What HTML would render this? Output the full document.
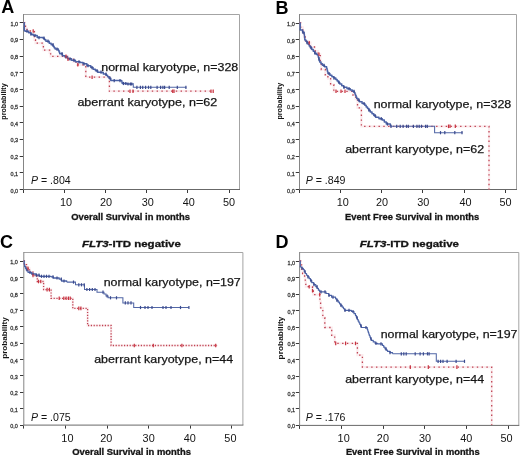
<!DOCTYPE html>
<html><head><meta charset="utf-8"><title>Kaplan-Meier curves</title>
<style>
html,body{margin:0;padding:0;background:#fff;}
body{width:520px;height:455px;overflow:hidden;}
svg{display:block;filter:blur(0.3px);font-family:"Liberation Sans", sans-serif;}
</style></head><body>
<svg width="520" height="455" viewBox="0 0 520 455">
<rect width="520" height="455" fill="#fff"/>
<g><path d="M23.5,14.5 H239.5 V189.5" fill="none" stroke="#a4a4a4" stroke-width="1"/>
<path d="M23.5,14 V189.5" fill="none" stroke="#858585" stroke-width="1"/>
<path d="M23,189.5 H240" fill="none" stroke="#686868" stroke-width="1"/>
<line x1="19.7" y1="189.5" x2="23" y2="189.5" stroke="#3a3a3a" stroke-width="1"/>
<text x="18" y="192.5" font-size="6" fill="#383838" stroke="#383838" stroke-width="0.3" text-anchor="end" textLength="7.6" lengthAdjust="spacingAndGlyphs">0,0</text>
<line x1="19.7" y1="172.5" x2="23" y2="172.5" stroke="#3a3a3a" stroke-width="1"/>
<text x="18" y="175.83" font-size="6" fill="#383838" stroke="#383838" stroke-width="0.3" text-anchor="end" textLength="7.6" lengthAdjust="spacingAndGlyphs">0,1</text>
<line x1="19.7" y1="156.5" x2="23" y2="156.5" stroke="#3a3a3a" stroke-width="1"/>
<text x="18" y="159.16" font-size="6" fill="#383838" stroke="#383838" stroke-width="0.3" text-anchor="end" textLength="7.6" lengthAdjust="spacingAndGlyphs">0,2</text>
<line x1="19.7" y1="139.5" x2="23" y2="139.5" stroke="#3a3a3a" stroke-width="1"/>
<text x="18" y="142.49" font-size="6" fill="#383838" stroke="#383838" stroke-width="0.3" text-anchor="end" textLength="7.6" lengthAdjust="spacingAndGlyphs">0,3</text>
<line x1="19.7" y1="122.5" x2="23" y2="122.5" stroke="#3a3a3a" stroke-width="1"/>
<text x="18" y="125.82" font-size="6" fill="#383838" stroke="#383838" stroke-width="0.3" text-anchor="end" textLength="7.6" lengthAdjust="spacingAndGlyphs">0,4</text>
<line x1="19.7" y1="106.5" x2="23" y2="106.5" stroke="#3a3a3a" stroke-width="1"/>
<text x="18" y="109.15" font-size="6" fill="#383838" stroke="#383838" stroke-width="0.3" text-anchor="end" textLength="7.6" lengthAdjust="spacingAndGlyphs">0,5</text>
<line x1="19.7" y1="89.5" x2="23" y2="89.5" stroke="#3a3a3a" stroke-width="1"/>
<text x="18" y="92.48" font-size="6" fill="#383838" stroke="#383838" stroke-width="0.3" text-anchor="end" textLength="7.6" lengthAdjust="spacingAndGlyphs">0,6</text>
<line x1="19.7" y1="72.5" x2="23" y2="72.5" stroke="#3a3a3a" stroke-width="1"/>
<text x="18" y="75.81" font-size="6" fill="#383838" stroke="#383838" stroke-width="0.3" text-anchor="end" textLength="7.6" lengthAdjust="spacingAndGlyphs">0,7</text>
<line x1="19.7" y1="56.5" x2="23" y2="56.5" stroke="#3a3a3a" stroke-width="1"/>
<text x="18" y="59.14" font-size="6" fill="#383838" stroke="#383838" stroke-width="0.3" text-anchor="end" textLength="7.6" lengthAdjust="spacingAndGlyphs">0,8</text>
<line x1="19.7" y1="39.5" x2="23" y2="39.5" stroke="#3a3a3a" stroke-width="1"/>
<text x="18" y="42.47" font-size="6" fill="#383838" stroke="#383838" stroke-width="0.3" text-anchor="end" textLength="7.6" lengthAdjust="spacingAndGlyphs">0,9</text>
<line x1="19.7" y1="22.5" x2="23" y2="22.5" stroke="#3a3a3a" stroke-width="1"/>
<text x="18" y="25.8" font-size="6" fill="#383838" stroke="#383838" stroke-width="0.3" text-anchor="end" textLength="7.6" lengthAdjust="spacingAndGlyphs">1,0</text>
<line x1="23.5" y1="190" x2="23.5" y2="193" stroke="#3a3a3a" stroke-width="1"/>
<line x1="64.5" y1="190" x2="64.5" y2="193" stroke="#3a3a3a" stroke-width="1"/>
<text x="66.05" y="206" font-size="10.2" fill="#141414" text-anchor="middle" textLength="12.1" lengthAdjust="spacingAndGlyphs">10</text>
<line x1="105.5" y1="190" x2="105.5" y2="193" stroke="#3a3a3a" stroke-width="1"/>
<text x="105.95" y="206" font-size="10.2" fill="#141414" text-anchor="middle" textLength="12.1" lengthAdjust="spacingAndGlyphs">20</text>
<line x1="146.5" y1="190" x2="146.5" y2="193" stroke="#3a3a3a" stroke-width="1"/>
<text x="147.7" y="206" font-size="10.2" fill="#141414" text-anchor="middle" textLength="12.1" lengthAdjust="spacingAndGlyphs">30</text>
<line x1="187.5" y1="190" x2="187.5" y2="193" stroke="#3a3a3a" stroke-width="1"/>
<text x="188.75" y="206" font-size="10.2" fill="#141414" text-anchor="middle" textLength="12.1" lengthAdjust="spacingAndGlyphs">40</text>
<line x1="229.5" y1="190" x2="229.5" y2="193" stroke="#3a3a3a" stroke-width="1"/>
<text x="228.95" y="206" font-size="10.2" fill="#141414" text-anchor="middle" textLength="12.1" lengthAdjust="spacingAndGlyphs">50</text>
<path d="M23.5,22.7 H24.6 V25.5 H25.5 V28.3 H27 V31 H34.4 V40 H35.5 V43.2 H42.8 V45.8 H43.4 V50.2 H49.6 V53 H50.6 V56.4 H68 V59.2 H73.5 V62 H77.5 V64.8 H85.8 V77.2 H109.4 V91.2 H213.7" fill="none" stroke="#f6cdd3" stroke-width="2.2" stroke-opacity="0.4"/>
<path d="M23.5,22.7 H24.6 V25.5 H25.5 V28.3 H27 V31 H34.4 V40 H35.5 V43.2 H42.8 V45.8 H43.4 V50.2 H49.6 V53 H50.6 V56.4 H68 V59.2 H73.5 V62 H77.5 V64.8 H85.8 V77.2 H109.4 V91.2 H213.7" fill="none" stroke="#bf4252" stroke-width="1.3" stroke-dasharray="1.4 3.4"/>
<path d="M23.5,22.7 L24.3,22.7 L24.3,30.6 H25 V31.2 H28.6 V32.8 H30.9 V34.15 H33.2 V35.5 H37.2 V37.6 H43.1 V38.2 H44.5 V39.7 H45.9 V41.2 H49.2 V43.2 H51.15 V44.7 H53.1 V46.2 H54.1 V47.65 H55.1 V49.1 H58.4 V50.4 H59.05 V52.05 H59.7 V53.7 H62.4 V55.7 H65 V57 H67.7 V58.8 H71.5 V60.3 H75.4 V61.8 H80 V62.6 H83 V63.8 H86.9 V65.7 H90.8 V67.6 H93.1 V69.15 H95.4 V70.7 H97.7 V72.2 H101.5 V72.4 H103.3 V74.1 H106.2 V75.3 H107.6 V76.75 H109 V78.2 H110.8 V80.6 H121.5 V80.8 H121.85 V82.15 H122.2 V83.5 H127 V84 H133.3 V84.3" fill="none" stroke="#4a62a6" stroke-width="1.5" stroke-linejoin="round"/>
<path d="M133.3,84.3 L133.3,87.3 L186.4,87.3" fill="none" stroke="#5267a6" stroke-width="1.05"/>
<line x1="114.2" y1="79" x2="114.2" y2="82.2" stroke="#3b4a8e" stroke-width="1.2"/>
<line x1="120" y1="79" x2="120" y2="82.2" stroke="#3b4a8e" stroke-width="1.2"/>
<line x1="123.5" y1="81.9" x2="123.5" y2="85.1" stroke="#3b4a8e" stroke-width="1.2"/>
<line x1="125.8" y1="81.9" x2="125.8" y2="85.1" stroke="#3b4a8e" stroke-width="1.2"/>
<line x1="128" y1="82.4" x2="128" y2="85.6" stroke="#3b4a8e" stroke-width="1.2"/>
<line x1="130.4" y1="82.4" x2="130.4" y2="85.6" stroke="#3b4a8e" stroke-width="1.2"/>
<line x1="131.7" y1="82.4" x2="131.7" y2="85.6" stroke="#3b4a8e" stroke-width="1.2"/>
<line x1="136.9" y1="85.7" x2="136.9" y2="88.9" stroke="#3b4a8e" stroke-width="1.2"/>
<line x1="140.4" y1="85.7" x2="140.4" y2="88.9" stroke="#3b4a8e" stroke-width="1.2"/>
<line x1="142.7" y1="85.7" x2="142.7" y2="88.9" stroke="#3b4a8e" stroke-width="1.2"/>
<line x1="145.6" y1="85.7" x2="145.6" y2="88.9" stroke="#3b4a8e" stroke-width="1.2"/>
<line x1="148.5" y1="85.7" x2="148.5" y2="88.9" stroke="#3b4a8e" stroke-width="1.2"/>
<line x1="150.8" y1="85.7" x2="150.8" y2="88.9" stroke="#3b4a8e" stroke-width="1.2"/>
<line x1="157.1" y1="85.7" x2="157.1" y2="88.9" stroke="#3b4a8e" stroke-width="1.2"/>
<line x1="160.6" y1="85.7" x2="160.6" y2="88.9" stroke="#3b4a8e" stroke-width="1.2"/>
<line x1="162.9" y1="85.7" x2="162.9" y2="88.9" stroke="#3b4a8e" stroke-width="1.2"/>
<line x1="164.6" y1="85.7" x2="164.6" y2="88.9" stroke="#3b4a8e" stroke-width="1.2"/>
<line x1="169.2" y1="85.7" x2="169.2" y2="88.9" stroke="#3b4a8e" stroke-width="1.2"/>
<line x1="177.3" y1="85.7" x2="177.3" y2="88.9" stroke="#3b4a8e" stroke-width="1.2"/>
<line x1="185.9" y1="85.7" x2="185.9" y2="88.9" stroke="#3b4a8e" stroke-width="1.2"/>
<line x1="27" y1="29.6" x2="27" y2="32.8" stroke="#3b4a8e" stroke-width="1.2"/>
<line x1="31" y1="32.55" x2="31" y2="35.75" stroke="#3b4a8e" stroke-width="1.2"/>
<line x1="35" y1="33.9" x2="35" y2="37.1" stroke="#3b4a8e" stroke-width="1.2"/>
<line x1="39" y1="36" x2="39" y2="39.2" stroke="#3b4a8e" stroke-width="1.2"/>
<line x1="44" y1="36.6" x2="44" y2="39.8" stroke="#3b4a8e" stroke-width="1.2"/>
<line x1="48" y1="39.6" x2="48" y2="42.8" stroke="#3b4a8e" stroke-width="1.2"/>
<line x1="53" y1="43.1" x2="53" y2="46.3" stroke="#3b4a8e" stroke-width="1.2"/>
<line x1="57" y1="47.5" x2="57" y2="50.7" stroke="#3b4a8e" stroke-width="1.2"/>
<line x1="62" y1="52.1" x2="62" y2="55.3" stroke="#3b4a8e" stroke-width="1.2"/>
<line x1="66" y1="55.4" x2="66" y2="58.6" stroke="#3b4a8e" stroke-width="1.2"/>
<line x1="70" y1="57.2" x2="70" y2="60.4" stroke="#3b4a8e" stroke-width="1.2"/>
<line x1="74" y1="58.7" x2="74" y2="61.9" stroke="#3b4a8e" stroke-width="1.2"/>
<line x1="79" y1="60.2" x2="79" y2="63.4" stroke="#3b4a8e" stroke-width="1.2"/>
<line x1="84" y1="62.2" x2="84" y2="65.4" stroke="#3b4a8e" stroke-width="1.2"/>
<line x1="88" y1="64.1" x2="88" y2="67.3" stroke="#3b4a8e" stroke-width="1.2"/>
<line x1="92" y1="66" x2="92" y2="69.2" stroke="#3b4a8e" stroke-width="1.2"/>
<line x1="97" y1="69.1" x2="97" y2="72.3" stroke="#3b4a8e" stroke-width="1.2"/>
<line x1="101" y1="70.6" x2="101" y2="73.8" stroke="#3b4a8e" stroke-width="1.2"/>
<line x1="106" y1="72.5" x2="106" y2="75.7" stroke="#3b4a8e" stroke-width="1.2"/>
<line x1="110" y1="76.6" x2="110" y2="79.8" stroke="#3b4a8e" stroke-width="1.2"/>
<line x1="33.2" y1="29.2" x2="33.2" y2="32.8" stroke="#c8323f" stroke-width="1.2"/>
<line x1="66" y1="54.6" x2="66" y2="58.2" stroke="#c8323f" stroke-width="1.2"/>
<line x1="68" y1="57.4" x2="68" y2="61" stroke="#c8323f" stroke-width="1.2"/>
<line x1="77.8" y1="63" x2="77.8" y2="66.6" stroke="#c8323f" stroke-width="1.2"/>
<line x1="92.1" y1="75.4" x2="92.1" y2="79" stroke="#c8323f" stroke-width="1.2"/>
<line x1="130" y1="89.4" x2="130" y2="93" stroke="#c8323f" stroke-width="1.2"/>
<line x1="133" y1="89.4" x2="133" y2="93" stroke="#c8323f" stroke-width="1.2"/>
<line x1="172.7" y1="89.4" x2="172.7" y2="93" stroke="#c8323f" stroke-width="1.2"/>
<line x1="174" y1="89.4" x2="174" y2="93" stroke="#c8323f" stroke-width="1.2"/>
<line x1="211" y1="89.4" x2="211" y2="93" stroke="#c8323f" stroke-width="1.2"/>
<line x1="213.2" y1="89.4" x2="213.2" y2="93" stroke="#c8323f" stroke-width="1.2"/>
<text x="101.3" y="70.6" font-size="11.6" fill="#141414" stroke="#1a1a1a" stroke-width="0.25" textLength="136.9" lengthAdjust="spacingAndGlyphs">normal karyotype, n=328</text>
<text x="77.4" y="105.6" font-size="11.6" fill="#141414" stroke="#1a1a1a" stroke-width="0.25" textLength="139.8" lengthAdjust="spacingAndGlyphs">aberrant karyotype, n=62</text>
<text x="31" y="183.5" font-size="10.6" fill="#141414" textLength="39.7" lengthAdjust="spacingAndGlyphs"><tspan font-style="italic">P</tspan> = .804</text>
<text x="71.3" y="219.5" font-size="9.5" font-weight="bold" fill="#141414" stroke="#141414" stroke-width="0.3" textLength="118.7" lengthAdjust="spacingAndGlyphs">Overall Survival in months</text>
<text transform="translate(6,101.5) rotate(-90)" x="0" y="0" font-size="7.1" font-weight="bold" fill="#141414" text-anchor="middle" textLength="36.3" lengthAdjust="spacingAndGlyphs">probability</text>
<text x="1.2" y="12.7" font-size="18" font-weight="bold" fill="#000">A</text></g>
<g><path d="M299.5,14.5 H516.5 V189.5" fill="none" stroke="#a4a4a4" stroke-width="1"/>
<path d="M299.5,14 V189.5" fill="none" stroke="#858585" stroke-width="1"/>
<path d="M299,189.5 H517" fill="none" stroke="#686868" stroke-width="1"/>
<line x1="295.7" y1="189.5" x2="299" y2="189.5" stroke="#3a3a3a" stroke-width="1"/>
<text x="294.7" y="192.5" font-size="6" fill="#383838" stroke="#383838" stroke-width="0.3" text-anchor="end" textLength="7.6" lengthAdjust="spacingAndGlyphs">0,0</text>
<line x1="295.7" y1="172.5" x2="299" y2="172.5" stroke="#3a3a3a" stroke-width="1"/>
<text x="294.7" y="175.85" font-size="6" fill="#383838" stroke="#383838" stroke-width="0.3" text-anchor="end" textLength="7.6" lengthAdjust="spacingAndGlyphs">0,1</text>
<line x1="295.7" y1="156.5" x2="299" y2="156.5" stroke="#3a3a3a" stroke-width="1"/>
<text x="294.7" y="159.2" font-size="6" fill="#383838" stroke="#383838" stroke-width="0.3" text-anchor="end" textLength="7.6" lengthAdjust="spacingAndGlyphs">0,2</text>
<line x1="295.7" y1="139.5" x2="299" y2="139.5" stroke="#3a3a3a" stroke-width="1"/>
<text x="294.7" y="142.55" font-size="6" fill="#383838" stroke="#383838" stroke-width="0.3" text-anchor="end" textLength="7.6" lengthAdjust="spacingAndGlyphs">0,3</text>
<line x1="295.7" y1="122.5" x2="299" y2="122.5" stroke="#3a3a3a" stroke-width="1"/>
<text x="294.7" y="125.9" font-size="6" fill="#383838" stroke="#383838" stroke-width="0.3" text-anchor="end" textLength="7.6" lengthAdjust="spacingAndGlyphs">0,4</text>
<line x1="295.7" y1="106.5" x2="299" y2="106.5" stroke="#3a3a3a" stroke-width="1"/>
<text x="294.7" y="109.25" font-size="6" fill="#383838" stroke="#383838" stroke-width="0.3" text-anchor="end" textLength="7.6" lengthAdjust="spacingAndGlyphs">0,5</text>
<line x1="295.7" y1="89.5" x2="299" y2="89.5" stroke="#3a3a3a" stroke-width="1"/>
<text x="294.7" y="92.6" font-size="6" fill="#383838" stroke="#383838" stroke-width="0.3" text-anchor="end" textLength="7.6" lengthAdjust="spacingAndGlyphs">0,6</text>
<line x1="295.7" y1="72.5" x2="299" y2="72.5" stroke="#3a3a3a" stroke-width="1"/>
<text x="294.7" y="75.95" font-size="6" fill="#383838" stroke="#383838" stroke-width="0.3" text-anchor="end" textLength="7.6" lengthAdjust="spacingAndGlyphs">0,7</text>
<line x1="295.7" y1="56.5" x2="299" y2="56.5" stroke="#3a3a3a" stroke-width="1"/>
<text x="294.7" y="59.3" font-size="6" fill="#383838" stroke="#383838" stroke-width="0.3" text-anchor="end" textLength="7.6" lengthAdjust="spacingAndGlyphs">0,8</text>
<line x1="295.7" y1="39.5" x2="299" y2="39.5" stroke="#3a3a3a" stroke-width="1"/>
<text x="294.7" y="42.65" font-size="6" fill="#383838" stroke="#383838" stroke-width="0.3" text-anchor="end" textLength="7.6" lengthAdjust="spacingAndGlyphs">0,9</text>
<line x1="295.7" y1="23.5" x2="299" y2="23.5" stroke="#3a3a3a" stroke-width="1"/>
<text x="294.7" y="26" font-size="6" fill="#383838" stroke="#383838" stroke-width="0.3" text-anchor="end" textLength="7.6" lengthAdjust="spacingAndGlyphs">1,0</text>
<line x1="299.5" y1="190" x2="299.5" y2="193" stroke="#3a3a3a" stroke-width="1"/>
<line x1="340.5" y1="190" x2="340.5" y2="193" stroke="#3a3a3a" stroke-width="1"/>
<text x="342.8" y="206" font-size="10.2" fill="#141414" text-anchor="middle" textLength="12.1" lengthAdjust="spacingAndGlyphs">10</text>
<line x1="381.5" y1="190" x2="381.5" y2="193" stroke="#3a3a3a" stroke-width="1"/>
<text x="381.95" y="206" font-size="10.2" fill="#141414" text-anchor="middle" textLength="12.1" lengthAdjust="spacingAndGlyphs">20</text>
<line x1="422.5" y1="190" x2="422.5" y2="193" stroke="#3a3a3a" stroke-width="1"/>
<text x="423.25" y="206" font-size="10.2" fill="#141414" text-anchor="middle" textLength="12.1" lengthAdjust="spacingAndGlyphs">30</text>
<line x1="464.5" y1="190" x2="464.5" y2="193" stroke="#3a3a3a" stroke-width="1"/>
<text x="465.45" y="206" font-size="10.2" fill="#141414" text-anchor="middle" textLength="12.1" lengthAdjust="spacingAndGlyphs">40</text>
<line x1="505.5" y1="190" x2="505.5" y2="193" stroke="#3a3a3a" stroke-width="1"/>
<text x="505.55" y="206" font-size="10.2" fill="#141414" text-anchor="middle" textLength="12.1" lengthAdjust="spacingAndGlyphs">50</text>
<path d="M299.5,22.9 H300.6 V27.3 H302.8 V31.5 H304 V36.7 H305 V41 H309 V42.7 H310.5 V47 H314.5 V51 H318 V54.3 H320.3 V62 H321.3 V69.5 H325.3 V74.8 H327.9 V78.7 H330.6 V84.7 H333.8 V91.3 H353 V95 H355.6 V99 H357.5 V107.8 H361.4 V126.3 H489 V189.5" fill="none" stroke="#f6cdd3" stroke-width="2.2" stroke-opacity="0.4"/>
<path d="M299.5,22.9 H300.6 V27.3 H302.8 V31.5 H304 V36.7 H305 V41 H309 V42.7 H310.5 V47 H314.5 V51 H318 V54.3 H320.3 V62 H321.3 V69.5 H325.3 V74.8 H327.9 V78.7 H330.6 V84.7 H333.8 V91.3 H353 V95 H355.6 V99 H357.5 V107.8 H361.4 V126.3 H489 V189.5" fill="none" stroke="#bf4252" stroke-width="1.3" stroke-dasharray="1.4 3.4"/>
<path d="M299.5,22.9 L300.2,22.9 L300.2,30.1 H302.6 V32.3 H304.2 V34.5 H304.4 V36.33 H304.6 V38.17 H304.8 V40 H305.9 V41.35 H307 V42.7 H308.1 V44.37 H309.2 V46.03 H310.3 V47.7 H311.77 V49.53 H313.23 V51.37 H314.7 V53.2 H316.35 V54.55 H318 V55.9 H318.4 V57.42 H318.8 V58.95 H319.2 V60.48 H319.6 V62 H321 V63.65 H322.4 V65.3 H324.5 V66.75 H326.6 V68.2 H327.03 V69.97 H327.47 V71.73 H327.9 V73.5 H329.9 V75.15 H331.9 V76.8 H333.85 V78.1 H335.8 V79.4 H337.13 V80.93 H338.47 V82.47 H339.8 V84 H341.75 V85.65 H343.7 V87.3 H347 V88.65 H350.3 V90 H352.3 V91.3 H354.3 V92.6 H354.9 V94.07 H355.5 V95.55 H356.1 V97.03 H356.7 V98.5 H358.05 V100.15 H359.4 V101.8 H362.1 V103.5 H364.8 V105.2 H366.15 V106.88 H367.5 V108.55 H368.85 V110.23 H370.2 V111.9 H372 V113.7 H373.8 V115.5 H375.6 V117.3 H378.95 V118.65 H382.3 V120 H384.3 V122 H386.3 V124 H390.4 V126.3" fill="none" stroke="#4a62a6" stroke-width="1.5" stroke-linejoin="round"/>
<path d="M390.4,126.3 L434.6,126.3 L434.6,132.7 L462.5,132.7" fill="none" stroke="#5267a6" stroke-width="1.05"/>
<line x1="381.2" y1="117.05" x2="381.2" y2="120.25" stroke="#3b4a8e" stroke-width="1.2"/>
<line x1="387.5" y1="122.4" x2="387.5" y2="125.6" stroke="#3b4a8e" stroke-width="1.2"/>
<line x1="391" y1="124.7" x2="391" y2="127.9" stroke="#3b4a8e" stroke-width="1.2"/>
<line x1="396.7" y1="124.7" x2="396.7" y2="127.9" stroke="#3b4a8e" stroke-width="1.2"/>
<line x1="400.2" y1="124.7" x2="400.2" y2="127.9" stroke="#3b4a8e" stroke-width="1.2"/>
<line x1="403.1" y1="124.7" x2="403.1" y2="127.9" stroke="#3b4a8e" stroke-width="1.2"/>
<line x1="406.5" y1="124.7" x2="406.5" y2="127.9" stroke="#3b4a8e" stroke-width="1.2"/>
<line x1="408.3" y1="124.7" x2="408.3" y2="127.9" stroke="#3b4a8e" stroke-width="1.2"/>
<line x1="413.4" y1="124.7" x2="413.4" y2="127.9" stroke="#3b4a8e" stroke-width="1.2"/>
<line x1="416.9" y1="124.7" x2="416.9" y2="127.9" stroke="#3b4a8e" stroke-width="1.2"/>
<line x1="419.2" y1="124.7" x2="419.2" y2="127.9" stroke="#3b4a8e" stroke-width="1.2"/>
<line x1="421.5" y1="124.7" x2="421.5" y2="127.9" stroke="#3b4a8e" stroke-width="1.2"/>
<line x1="425.6" y1="124.7" x2="425.6" y2="127.9" stroke="#3b4a8e" stroke-width="1.2"/>
<line x1="427.3" y1="124.7" x2="427.3" y2="127.9" stroke="#3b4a8e" stroke-width="1.2"/>
<line x1="440.5" y1="131.1" x2="440.5" y2="134.3" stroke="#3b4a8e" stroke-width="1.2"/>
<line x1="444.8" y1="131.1" x2="444.8" y2="134.3" stroke="#3b4a8e" stroke-width="1.2"/>
<line x1="454.8" y1="131.1" x2="454.8" y2="134.3" stroke="#3b4a8e" stroke-width="1.2"/>
<line x1="462" y1="131.1" x2="462" y2="134.3" stroke="#3b4a8e" stroke-width="1.2"/>
<line x1="303" y1="30.7" x2="303" y2="33.9" stroke="#3b4a8e" stroke-width="1.2"/>
<line x1="307" y1="41.1" x2="307" y2="44.3" stroke="#3b4a8e" stroke-width="1.2"/>
<line x1="311" y1="46.1" x2="311" y2="49.3" stroke="#3b4a8e" stroke-width="1.2"/>
<line x1="315" y1="51.6" x2="315" y2="54.8" stroke="#3b4a8e" stroke-width="1.2"/>
<line x1="319" y1="57.35" x2="319" y2="60.55" stroke="#3b4a8e" stroke-width="1.2"/>
<line x1="324" y1="63.7" x2="324" y2="66.9" stroke="#3b4a8e" stroke-width="1.2"/>
<line x1="329" y1="71.9" x2="329" y2="75.1" stroke="#3b4a8e" stroke-width="1.2"/>
<line x1="334" y1="76.5" x2="334" y2="79.7" stroke="#3b4a8e" stroke-width="1.2"/>
<line x1="339" y1="80.87" x2="339" y2="84.07" stroke="#3b4a8e" stroke-width="1.2"/>
<line x1="344" y1="85.7" x2="344" y2="88.9" stroke="#3b4a8e" stroke-width="1.2"/>
<line x1="349" y1="87.05" x2="349" y2="90.25" stroke="#3b4a8e" stroke-width="1.2"/>
<line x1="354" y1="89.7" x2="354" y2="92.9" stroke="#3b4a8e" stroke-width="1.2"/>
<line x1="359" y1="98.55" x2="359" y2="101.75" stroke="#3b4a8e" stroke-width="1.2"/>
<line x1="364" y1="101.9" x2="364" y2="105.1" stroke="#3b4a8e" stroke-width="1.2"/>
<line x1="369" y1="108.63" x2="369" y2="111.83" stroke="#3b4a8e" stroke-width="1.2"/>
<line x1="375" y1="113.9" x2="375" y2="117.1" stroke="#3b4a8e" stroke-width="1.2"/>
<line x1="309.2" y1="40.9" x2="309.2" y2="44.5" stroke="#c8323f" stroke-width="1.2"/>
<line x1="319" y1="52.5" x2="319" y2="56.1" stroke="#c8323f" stroke-width="1.2"/>
<line x1="336" y1="89.5" x2="336" y2="93.1" stroke="#c8323f" stroke-width="1.2"/>
<line x1="341" y1="89.5" x2="341" y2="93.1" stroke="#c8323f" stroke-width="1.2"/>
<line x1="345" y1="89.5" x2="345" y2="93.1" stroke="#c8323f" stroke-width="1.2"/>
<line x1="448.5" y1="124.5" x2="448.5" y2="128.1" stroke="#c8323f" stroke-width="1.2"/>
<line x1="450" y1="124.5" x2="450" y2="128.1" stroke="#c8323f" stroke-width="1.2"/>
<line x1="455.3" y1="124.5" x2="455.3" y2="128.1" stroke="#c8323f" stroke-width="1.2"/>
<text x="373.7" y="108.1" font-size="11.6" fill="#141414" stroke="#1a1a1a" stroke-width="0.25" textLength="137.6" lengthAdjust="spacingAndGlyphs">normal karyotype, n=328</text>
<text x="345.2" y="153.3" font-size="11.6" fill="#141414" stroke="#1a1a1a" stroke-width="0.25" textLength="139" lengthAdjust="spacingAndGlyphs">aberrant karyotype, n=62</text>
<text x="305.7" y="183.5" font-size="10.6" fill="#141414" textLength="39.8" lengthAdjust="spacingAndGlyphs"><tspan font-style="italic">P</tspan> = .849</text>
<text x="345" y="219.5" font-size="9.5" font-weight="bold" fill="#141414" stroke="#141414" stroke-width="0.3" textLength="134.2" lengthAdjust="spacingAndGlyphs">Event Free Survival in months</text>
<text transform="translate(282.3,101.2) rotate(-90)" x="0" y="0" font-size="7.1" font-weight="bold" fill="#141414" text-anchor="middle" textLength="36.8" lengthAdjust="spacingAndGlyphs">probability</text>
<text x="275.4" y="13.6" font-size="18" font-weight="bold" fill="#000">B</text></g>
<g><path d="M23.8,252.5 H242.9 V425.1" fill="none" stroke="#a4a4a4" stroke-width="1"/>
<path d="M23.8,252 V425.1" fill="none" stroke="#858585" stroke-width="1"/>
<path d="M23.3,425.1 H243.4" fill="none" stroke="#686868" stroke-width="1"/>
<line x1="20" y1="425.5" x2="23.3" y2="425.5" stroke="#3a3a3a" stroke-width="1"/>
<text x="17.9" y="428.1" font-size="6" fill="#383838" stroke="#383838" stroke-width="0.3" text-anchor="end" textLength="7.6" lengthAdjust="spacingAndGlyphs">0,0</text>
<line x1="20" y1="408.5" x2="23.3" y2="408.5" stroke="#3a3a3a" stroke-width="1"/>
<text x="17.9" y="411.7" font-size="6" fill="#383838" stroke="#383838" stroke-width="0.3" text-anchor="end" textLength="7.6" lengthAdjust="spacingAndGlyphs">0,1</text>
<line x1="20" y1="392.5" x2="23.3" y2="392.5" stroke="#3a3a3a" stroke-width="1"/>
<text x="17.9" y="395.3" font-size="6" fill="#383838" stroke="#383838" stroke-width="0.3" text-anchor="end" textLength="7.6" lengthAdjust="spacingAndGlyphs">0,2</text>
<line x1="20" y1="375.5" x2="23.3" y2="375.5" stroke="#3a3a3a" stroke-width="1"/>
<text x="17.9" y="378.9" font-size="6" fill="#383838" stroke="#383838" stroke-width="0.3" text-anchor="end" textLength="7.6" lengthAdjust="spacingAndGlyphs">0,3</text>
<line x1="20" y1="359.5" x2="23.3" y2="359.5" stroke="#3a3a3a" stroke-width="1"/>
<text x="17.9" y="362.5" font-size="6" fill="#383838" stroke="#383838" stroke-width="0.3" text-anchor="end" textLength="7.6" lengthAdjust="spacingAndGlyphs">0,4</text>
<line x1="20" y1="343.5" x2="23.3" y2="343.5" stroke="#3a3a3a" stroke-width="1"/>
<text x="17.9" y="346.1" font-size="6" fill="#383838" stroke="#383838" stroke-width="0.3" text-anchor="end" textLength="7.6" lengthAdjust="spacingAndGlyphs">0,5</text>
<line x1="20" y1="326.5" x2="23.3" y2="326.5" stroke="#3a3a3a" stroke-width="1"/>
<text x="17.9" y="329.7" font-size="6" fill="#383838" stroke="#383838" stroke-width="0.3" text-anchor="end" textLength="7.6" lengthAdjust="spacingAndGlyphs">0,6</text>
<line x1="20" y1="310.5" x2="23.3" y2="310.5" stroke="#3a3a3a" stroke-width="1"/>
<text x="17.9" y="313.3" font-size="6" fill="#383838" stroke="#383838" stroke-width="0.3" text-anchor="end" textLength="7.6" lengthAdjust="spacingAndGlyphs">0,7</text>
<line x1="20" y1="293.5" x2="23.3" y2="293.5" stroke="#3a3a3a" stroke-width="1"/>
<text x="17.9" y="296.9" font-size="6" fill="#383838" stroke="#383838" stroke-width="0.3" text-anchor="end" textLength="7.6" lengthAdjust="spacingAndGlyphs">0,8</text>
<line x1="20" y1="277.5" x2="23.3" y2="277.5" stroke="#3a3a3a" stroke-width="1"/>
<text x="17.9" y="280.5" font-size="6" fill="#383838" stroke="#383838" stroke-width="0.3" text-anchor="end" textLength="7.6" lengthAdjust="spacingAndGlyphs">0,9</text>
<line x1="20" y1="261.5" x2="23.3" y2="261.5" stroke="#3a3a3a" stroke-width="1"/>
<text x="17.9" y="264.1" font-size="6" fill="#383838" stroke="#383838" stroke-width="0.3" text-anchor="end" textLength="7.6" lengthAdjust="spacingAndGlyphs">1,0</text>
<line x1="23.5" y1="425.6" x2="23.5" y2="428.6" stroke="#3a3a3a" stroke-width="1"/>
<line x1="65.5" y1="425.6" x2="65.5" y2="428.6" stroke="#3a3a3a" stroke-width="1"/>
<text x="67.4" y="441.8" font-size="10.2" fill="#141414" text-anchor="middle" textLength="12.1" lengthAdjust="spacingAndGlyphs">10</text>
<line x1="107.5" y1="425.6" x2="107.5" y2="428.6" stroke="#3a3a3a" stroke-width="1"/>
<text x="106.35" y="441.8" font-size="10.2" fill="#141414" text-anchor="middle" textLength="12.1" lengthAdjust="spacingAndGlyphs">20</text>
<line x1="148.5" y1="425.6" x2="148.5" y2="428.6" stroke="#3a3a3a" stroke-width="1"/>
<text x="148.65" y="441.8" font-size="10.2" fill="#141414" text-anchor="middle" textLength="12.1" lengthAdjust="spacingAndGlyphs">30</text>
<line x1="190.5" y1="425.6" x2="190.5" y2="428.6" stroke="#3a3a3a" stroke-width="1"/>
<text x="189.8" y="441.8" font-size="10.2" fill="#141414" text-anchor="middle" textLength="12.1" lengthAdjust="spacingAndGlyphs">40</text>
<line x1="231.5" y1="425.6" x2="231.5" y2="428.6" stroke="#3a3a3a" stroke-width="1"/>
<text x="230.4" y="441.8" font-size="10.2" fill="#141414" text-anchor="middle" textLength="12.1" lengthAdjust="spacingAndGlyphs">50</text>
<path d="M23.7,261 H24.3 V264.7 H26.5 V268.4 H29.5 V272.1 H33 V275.5 H37.3 V281.5 H43.6 V289.6 H51.1 V298.3 H72.8 V308.4 H87.6 V325.5 H111.1 V345.5 H217.1" fill="none" stroke="#f6cdd3" stroke-width="2.2" stroke-opacity="0.4"/>
<path d="M23.7,261 H24.3 V264.7 H26.5 V268.4 H29.5 V272.1 H33 V275.5 H37.3 V281.5 H43.6 V289.6 H51.1 V298.3 H72.8 V308.4 H87.6 V325.5 H111.1 V345.5 H217.1" fill="none" stroke="#bf4252" stroke-width="1.3" stroke-dasharray="1.2 1.6"/>
<path d="M23.7,261 L24.2,261 L24.2,264 H24.4 V265.25 H24.6 V266.5 H25.45 V268.25 H26.3 V270 H28 V272.3 H31.5 V274 H36.1 V275.2 H39.6 V276.3 H51.1 V276.8 H53.4 V278 H59.2 V279.2 H61.5 V281 H66.7 V282.1" fill="none" stroke="#4a62a6" stroke-width="1.3" stroke-linejoin="round"/>
<path d="M66.7,282.1 L75.5,282.1 L75.5,284.8 L84.5,284.8 L84.5,289.5 L97,289.5 L97,292.2 L104,292.2 L104,294 L106,294 L106,296 L108.1,296 L108.1,297.8 L122.9,297.8 L122.9,302.9 L133.7,302.9 L133.7,307.5 L188.9,307.5" fill="none" stroke="#5267a6" stroke-width="1.05"/>
<line x1="27" y1="268.4" x2="27" y2="271.6" stroke="#3b4a8e" stroke-width="1.2"/>
<line x1="30" y1="270.7" x2="30" y2="273.9" stroke="#3b4a8e" stroke-width="1.2"/>
<line x1="33" y1="272.4" x2="33" y2="275.6" stroke="#3b4a8e" stroke-width="1.2"/>
<line x1="36.5" y1="273.6" x2="36.5" y2="276.8" stroke="#3b4a8e" stroke-width="1.2"/>
<line x1="39" y1="273.6" x2="39" y2="276.8" stroke="#3b4a8e" stroke-width="1.2"/>
<line x1="41.5" y1="274.7" x2="41.5" y2="277.9" stroke="#3b4a8e" stroke-width="1.2"/>
<line x1="44" y1="274.7" x2="44" y2="277.9" stroke="#3b4a8e" stroke-width="1.2"/>
<line x1="46.5" y1="274.7" x2="46.5" y2="277.9" stroke="#3b4a8e" stroke-width="1.2"/>
<line x1="49" y1="274.7" x2="49" y2="277.9" stroke="#3b4a8e" stroke-width="1.2"/>
<line x1="53" y1="275.2" x2="53" y2="278.4" stroke="#3b4a8e" stroke-width="1.2"/>
<line x1="57" y1="276.4" x2="57" y2="279.6" stroke="#3b4a8e" stroke-width="1.2"/>
<line x1="61.3" y1="277.6" x2="61.3" y2="280.8" stroke="#3b4a8e" stroke-width="1.2"/>
<line x1="64" y1="279.4" x2="64" y2="282.6" stroke="#3b4a8e" stroke-width="1.2"/>
<line x1="73.5" y1="280.5" x2="73.5" y2="283.7" stroke="#3b4a8e" stroke-width="1.2"/>
<line x1="78.8" y1="283.2" x2="78.8" y2="286.4" stroke="#3b4a8e" stroke-width="1.2"/>
<line x1="81.5" y1="283.2" x2="81.5" y2="286.4" stroke="#3b4a8e" stroke-width="1.2"/>
<line x1="84.2" y1="283.2" x2="84.2" y2="286.4" stroke="#3b4a8e" stroke-width="1.2"/>
<line x1="86.9" y1="287.9" x2="86.9" y2="291.1" stroke="#3b4a8e" stroke-width="1.2"/>
<line x1="89.6" y1="287.9" x2="89.6" y2="291.1" stroke="#3b4a8e" stroke-width="1.2"/>
<line x1="92.3" y1="287.9" x2="92.3" y2="291.1" stroke="#3b4a8e" stroke-width="1.2"/>
<line x1="95" y1="287.9" x2="95" y2="291.1" stroke="#3b4a8e" stroke-width="1.2"/>
<line x1="103" y1="290.6" x2="103" y2="293.8" stroke="#3b4a8e" stroke-width="1.2"/>
<line x1="107.1" y1="294.4" x2="107.1" y2="297.6" stroke="#3b4a8e" stroke-width="1.2"/>
<line x1="110.5" y1="296.2" x2="110.5" y2="299.4" stroke="#3b4a8e" stroke-width="1.2"/>
<line x1="116.5" y1="296.2" x2="116.5" y2="299.4" stroke="#3b4a8e" stroke-width="1.2"/>
<line x1="125.3" y1="301.3" x2="125.3" y2="304.5" stroke="#3b4a8e" stroke-width="1.2"/>
<line x1="128" y1="301.3" x2="128" y2="304.5" stroke="#3b4a8e" stroke-width="1.2"/>
<line x1="131" y1="301.3" x2="131" y2="304.5" stroke="#3b4a8e" stroke-width="1.2"/>
<line x1="140.5" y1="305.9" x2="140.5" y2="309.1" stroke="#3b4a8e" stroke-width="1.2"/>
<line x1="145" y1="305.9" x2="145" y2="309.1" stroke="#3b4a8e" stroke-width="1.2"/>
<line x1="148" y1="305.9" x2="148" y2="309.1" stroke="#3b4a8e" stroke-width="1.2"/>
<line x1="152" y1="305.9" x2="152" y2="309.1" stroke="#3b4a8e" stroke-width="1.2"/>
<line x1="163" y1="305.9" x2="163" y2="309.1" stroke="#3b4a8e" stroke-width="1.2"/>
<line x1="166" y1="305.9" x2="166" y2="309.1" stroke="#3b4a8e" stroke-width="1.2"/>
<line x1="171" y1="305.9" x2="171" y2="309.1" stroke="#3b4a8e" stroke-width="1.2"/>
<line x1="180.5" y1="305.9" x2="180.5" y2="309.1" stroke="#3b4a8e" stroke-width="1.2"/>
<line x1="188.9" y1="305.9" x2="188.9" y2="309.1" stroke="#3b4a8e" stroke-width="1.2"/>
<line x1="28" y1="266.6" x2="28" y2="270.2" stroke="#c8323f" stroke-width="1.2"/>
<line x1="33" y1="273.7" x2="33" y2="277.3" stroke="#c8323f" stroke-width="1.2"/>
<line x1="38.5" y1="279.7" x2="38.5" y2="283.3" stroke="#c8323f" stroke-width="1.2"/>
<line x1="40.8" y1="279.7" x2="40.8" y2="283.3" stroke="#c8323f" stroke-width="1.2"/>
<line x1="47.1" y1="287.8" x2="47.1" y2="291.4" stroke="#c8323f" stroke-width="1.2"/>
<line x1="49.4" y1="287.8" x2="49.4" y2="291.4" stroke="#c8323f" stroke-width="1.2"/>
<line x1="59.2" y1="296.5" x2="59.2" y2="300.1" stroke="#c8323f" stroke-width="1.2"/>
<line x1="63.8" y1="296.5" x2="63.8" y2="300.1" stroke="#c8323f" stroke-width="1.2"/>
<line x1="66.1" y1="296.5" x2="66.1" y2="300.1" stroke="#c8323f" stroke-width="1.2"/>
<line x1="68.4" y1="296.5" x2="68.4" y2="300.1" stroke="#c8323f" stroke-width="1.2"/>
<line x1="70.2" y1="296.5" x2="70.2" y2="300.1" stroke="#c8323f" stroke-width="1.2"/>
<line x1="78.8" y1="306.6" x2="78.8" y2="310.2" stroke="#c8323f" stroke-width="1.2"/>
<line x1="80.9" y1="306.6" x2="80.9" y2="310.2" stroke="#c8323f" stroke-width="1.2"/>
<line x1="134.3" y1="343.7" x2="134.3" y2="347.3" stroke="#c8323f" stroke-width="1.2"/>
<line x1="153.3" y1="343.7" x2="153.3" y2="347.3" stroke="#c8323f" stroke-width="1.2"/>
<line x1="181.9" y1="343.7" x2="181.9" y2="347.3" stroke="#c8323f" stroke-width="1.2"/>
<line x1="215.7" y1="343.7" x2="215.7" y2="347.3" stroke="#c8323f" stroke-width="1.2"/>
<text x="103.7" y="285.6" font-size="11.6" fill="#141414" stroke="#1a1a1a" stroke-width="0.25" textLength="137.1" lengthAdjust="spacingAndGlyphs">normal karyotype, n=197</text>
<text x="94.2" y="362.8" font-size="11.6" fill="#141414" stroke="#1a1a1a" stroke-width="0.25" textLength="139" lengthAdjust="spacingAndGlyphs">aberrant karyotype, n=44</text>
<text x="31" y="421.3" font-size="10.6" fill="#141414" textLength="39.7" lengthAdjust="spacingAndGlyphs"><tspan font-style="italic">P</tspan> = .075</text>
<text x="72.2" y="455.2" font-size="9.5" font-weight="bold" fill="#141414" stroke="#141414" stroke-width="0.3" textLength="118.8" lengthAdjust="spacingAndGlyphs">Overall Survival in months</text>
<text transform="translate(6.9,338) rotate(-90)" x="0" y="0" font-size="7.1" font-weight="bold" fill="#141414" text-anchor="middle" textLength="41.5" lengthAdjust="spacingAndGlyphs">probability</text>
<text x="-0.1" y="247.8" font-size="18" font-weight="bold" fill="#000">C</text>
<text x="82" y="247.1" font-size="9.9" font-weight="bold" fill="#141414" stroke="#141414" stroke-width="0.3" textLength="98.9" lengthAdjust="spacingAndGlyphs"><tspan font-style="italic">FLT3</tspan>-ITD negative</text></g>
<g><path d="M299.6,252.5 H518.8 V425.4" fill="none" stroke="#a4a4a4" stroke-width="1"/>
<path d="M299.6,252 V425.4" fill="none" stroke="#858585" stroke-width="1"/>
<path d="M299.1,425.4 H519.3" fill="none" stroke="#686868" stroke-width="1"/>
<line x1="295.8" y1="425.5" x2="299.1" y2="425.5" stroke="#3a3a3a" stroke-width="1"/>
<text x="295.1" y="428.3" font-size="6" fill="#383838" stroke="#383838" stroke-width="0.3" text-anchor="end" textLength="7.6" lengthAdjust="spacingAndGlyphs">0,0</text>
<line x1="295.8" y1="408.5" x2="299.1" y2="408.5" stroke="#3a3a3a" stroke-width="1"/>
<text x="295.1" y="411.92" font-size="6" fill="#383838" stroke="#383838" stroke-width="0.3" text-anchor="end" textLength="7.6" lengthAdjust="spacingAndGlyphs">0,1</text>
<line x1="295.8" y1="392.5" x2="299.1" y2="392.5" stroke="#3a3a3a" stroke-width="1"/>
<text x="295.1" y="395.54" font-size="6" fill="#383838" stroke="#383838" stroke-width="0.3" text-anchor="end" textLength="7.6" lengthAdjust="spacingAndGlyphs">0,2</text>
<line x1="295.8" y1="376.5" x2="299.1" y2="376.5" stroke="#3a3a3a" stroke-width="1"/>
<text x="295.1" y="379.16" font-size="6" fill="#383838" stroke="#383838" stroke-width="0.3" text-anchor="end" textLength="7.6" lengthAdjust="spacingAndGlyphs">0,3</text>
<line x1="295.8" y1="359.5" x2="299.1" y2="359.5" stroke="#3a3a3a" stroke-width="1"/>
<text x="295.1" y="362.78" font-size="6" fill="#383838" stroke="#383838" stroke-width="0.3" text-anchor="end" textLength="7.6" lengthAdjust="spacingAndGlyphs">0,4</text>
<line x1="295.8" y1="343.5" x2="299.1" y2="343.5" stroke="#3a3a3a" stroke-width="1"/>
<text x="295.1" y="346.4" font-size="6" fill="#383838" stroke="#383838" stroke-width="0.3" text-anchor="end" textLength="7.6" lengthAdjust="spacingAndGlyphs">0,5</text>
<line x1="295.8" y1="327.5" x2="299.1" y2="327.5" stroke="#3a3a3a" stroke-width="1"/>
<text x="295.1" y="330.02" font-size="6" fill="#383838" stroke="#383838" stroke-width="0.3" text-anchor="end" textLength="7.6" lengthAdjust="spacingAndGlyphs">0,6</text>
<line x1="295.8" y1="310.5" x2="299.1" y2="310.5" stroke="#3a3a3a" stroke-width="1"/>
<text x="295.1" y="313.64" font-size="6" fill="#383838" stroke="#383838" stroke-width="0.3" text-anchor="end" textLength="7.6" lengthAdjust="spacingAndGlyphs">0,7</text>
<line x1="295.8" y1="294.5" x2="299.1" y2="294.5" stroke="#3a3a3a" stroke-width="1"/>
<text x="295.1" y="297.26" font-size="6" fill="#383838" stroke="#383838" stroke-width="0.3" text-anchor="end" textLength="7.6" lengthAdjust="spacingAndGlyphs">0,8</text>
<line x1="295.8" y1="277.5" x2="299.1" y2="277.5" stroke="#3a3a3a" stroke-width="1"/>
<text x="295.1" y="280.88" font-size="6" fill="#383838" stroke="#383838" stroke-width="0.3" text-anchor="end" textLength="7.6" lengthAdjust="spacingAndGlyphs">0,9</text>
<line x1="295.8" y1="261.5" x2="299.1" y2="261.5" stroke="#3a3a3a" stroke-width="1"/>
<text x="295.1" y="264.5" font-size="6" fill="#383838" stroke="#383838" stroke-width="0.3" text-anchor="end" textLength="7.6" lengthAdjust="spacingAndGlyphs">1,0</text>
<line x1="299.5" y1="425.9" x2="299.5" y2="428.9" stroke="#3a3a3a" stroke-width="1"/>
<line x1="341.5" y1="425.9" x2="341.5" y2="428.9" stroke="#3a3a3a" stroke-width="1"/>
<text x="343.65" y="441.6" font-size="10.2" fill="#141414" text-anchor="middle" textLength="12.1" lengthAdjust="spacingAndGlyphs">10</text>
<line x1="383.5" y1="425.9" x2="383.5" y2="428.9" stroke="#3a3a3a" stroke-width="1"/>
<text x="382.9" y="441.6" font-size="10.2" fill="#141414" text-anchor="middle" textLength="12.1" lengthAdjust="spacingAndGlyphs">20</text>
<line x1="424.5" y1="425.9" x2="424.5" y2="428.9" stroke="#3a3a3a" stroke-width="1"/>
<text x="425.1" y="441.6" font-size="10.2" fill="#141414" text-anchor="middle" textLength="12.1" lengthAdjust="spacingAndGlyphs">30</text>
<line x1="466.5" y1="425.9" x2="466.5" y2="428.9" stroke="#3a3a3a" stroke-width="1"/>
<text x="466.35" y="441.6" font-size="10.2" fill="#141414" text-anchor="middle" textLength="12.1" lengthAdjust="spacingAndGlyphs">40</text>
<line x1="508.5" y1="425.9" x2="508.5" y2="428.9" stroke="#3a3a3a" stroke-width="1"/>
<text x="506.55" y="441.6" font-size="10.2" fill="#141414" text-anchor="middle" textLength="12.1" lengthAdjust="spacingAndGlyphs">50</text>
<path d="M299.7,261 H300.6 V265 H301.6 V269 H302.6 V273.5 H304.6 V277.2 H305.3 V281.4 H305.8 V286.7 H312.5 V290.7 H313.3 V294.6 H319.9 V301 H320.6 V307.8 H322.8 V317.7 H324.8 V327.5 H331.7 V335.4 H334.7 V343.4 H357.4 V355.2 H362.4 V367.1 H491.7 V425" fill="none" stroke="#f6cdd3" stroke-width="2.2" stroke-opacity="0.4"/>
<path d="M299.7,261 H300.6 V265 H301.6 V269 H302.6 V273.5 H304.6 V277.2 H305.3 V281.4 H305.8 V286.7 H312.5 V290.7 H313.3 V294.6 H319.9 V301 H320.6 V307.8 H322.8 V317.7 H324.8 V327.5 H331.7 V335.4 H334.7 V343.4 H357.4 V355.2 H362.4 V367.1 H491.7 V425" fill="none" stroke="#bf4252" stroke-width="1.3" stroke-dasharray="1.4 3.4"/>
<path d="M299.7,261 L300.3,261 L300.3,267 H301.8 V268.25 H303.3 V269.5 H304.25 V271.5 H305.2 V273.5 H306.53 V275.23 H307.87 V276.97 H309.2 V278.7 H310.5 V280.7 H311.8 V282.7 H313.8 V284.7 H315.8 V286.7 H317.1 V288.43 H318.4 V290.17 H319.7 V291.9 H326 V293.5 H328.8 V295.35 H331.6 V297.2 H335.6 V298.8 H336.9 V300.47 H338.2 V302.13 H339.5 V303.8 H340.82 V305.45 H342.15 V307.1 H343.48 V308.75 H344.8 V310.4 H351.4 V311.5 H354 V313.7 H355.5 V315.7 H356.45 V317.65 H357.4 V319.6 H358.2 V321.18 H359 V322.76 H359.8 V324.34 H360.6 V325.92 H361.4 V327.5 H367.3 V329.5 H367.8 V331 H368.3 V332.5 H368.8 V334 H369.3 V335.5 H369.97 V337.13 H370.63 V338.77 H371.3 V340.4 H373.25 V341.9 H375.2 V343.4 H377.5 V343.8 H382.5 V345.5 H383.75 V347.15 H385 V348.8 H386.25 V350.05 H387.5 V351.3 H390 V352.55 H392.5 V353.8" fill="none" stroke="#4a62a6" stroke-width="1.2" stroke-linejoin="round"/>
<path d="M392.5,353.8 L436.3,353.8 L436.3,361.3 L465,361.3" fill="none" stroke="#5267a6" stroke-width="1.05"/>
<line x1="401.3" y1="352.2" x2="401.3" y2="355.4" stroke="#3b4a8e" stroke-width="1.2"/>
<line x1="403.8" y1="352.2" x2="403.8" y2="355.4" stroke="#3b4a8e" stroke-width="1.2"/>
<line x1="406.2" y1="352.2" x2="406.2" y2="355.4" stroke="#3b4a8e" stroke-width="1.2"/>
<line x1="415.2" y1="352.2" x2="415.2" y2="355.4" stroke="#3b4a8e" stroke-width="1.2"/>
<line x1="420.1" y1="352.2" x2="420.1" y2="355.4" stroke="#3b4a8e" stroke-width="1.2"/>
<line x1="423.4" y1="352.2" x2="423.4" y2="355.4" stroke="#3b4a8e" stroke-width="1.2"/>
<line x1="427.5" y1="352.2" x2="427.5" y2="355.4" stroke="#3b4a8e" stroke-width="1.2"/>
<line x1="429.1" y1="352.2" x2="429.1" y2="355.4" stroke="#3b4a8e" stroke-width="1.2"/>
<line x1="438.1" y1="359.7" x2="438.1" y2="362.9" stroke="#3b4a8e" stroke-width="1.2"/>
<line x1="440.6" y1="359.7" x2="440.6" y2="362.9" stroke="#3b4a8e" stroke-width="1.2"/>
<line x1="443" y1="359.7" x2="443" y2="362.9" stroke="#3b4a8e" stroke-width="1.2"/>
<line x1="447.1" y1="359.7" x2="447.1" y2="362.9" stroke="#3b4a8e" stroke-width="1.2"/>
<line x1="456.1" y1="359.7" x2="456.1" y2="362.9" stroke="#3b4a8e" stroke-width="1.2"/>
<line x1="464.5" y1="359.7" x2="464.5" y2="362.9" stroke="#3b4a8e" stroke-width="1.2"/>
<line x1="302" y1="266.65" x2="302" y2="269.85" stroke="#3b4a8e" stroke-width="1.2"/>
<line x1="305" y1="269.9" x2="305" y2="273.1" stroke="#3b4a8e" stroke-width="1.2"/>
<line x1="308" y1="275.37" x2="308" y2="278.57" stroke="#3b4a8e" stroke-width="1.2"/>
<line x1="311" y1="279.1" x2="311" y2="282.3" stroke="#3b4a8e" stroke-width="1.2"/>
<line x1="314" y1="283.1" x2="314" y2="286.3" stroke="#3b4a8e" stroke-width="1.2"/>
<line x1="317" y1="285.1" x2="317" y2="288.3" stroke="#3b4a8e" stroke-width="1.2"/>
<line x1="321" y1="290.3" x2="321" y2="293.5" stroke="#3b4a8e" stroke-width="1.2"/>
<line x1="325" y1="290.3" x2="325" y2="293.5" stroke="#3b4a8e" stroke-width="1.2"/>
<line x1="329" y1="293.75" x2="329" y2="296.95" stroke="#3b4a8e" stroke-width="1.2"/>
<line x1="333" y1="295.6" x2="333" y2="298.8" stroke="#3b4a8e" stroke-width="1.2"/>
<line x1="337" y1="298.87" x2="337" y2="302.07" stroke="#3b4a8e" stroke-width="1.2"/>
<line x1="341" y1="303.85" x2="341" y2="307.05" stroke="#3b4a8e" stroke-width="1.2"/>
<line x1="345" y1="308.8" x2="345" y2="312" stroke="#3b4a8e" stroke-width="1.2"/>
<line x1="349" y1="308.8" x2="349" y2="312" stroke="#3b4a8e" stroke-width="1.2"/>
<line x1="353" y1="309.9" x2="353" y2="313.1" stroke="#3b4a8e" stroke-width="1.2"/>
<line x1="357" y1="316.05" x2="357" y2="319.25" stroke="#3b4a8e" stroke-width="1.2"/>
<line x1="361" y1="324.32" x2="361" y2="327.52" stroke="#3b4a8e" stroke-width="1.2"/>
<line x1="366" y1="325.9" x2="366" y2="329.1" stroke="#3b4a8e" stroke-width="1.2"/>
<line x1="371" y1="337.17" x2="371" y2="340.37" stroke="#3b4a8e" stroke-width="1.2"/>
<line x1="376" y1="341.8" x2="376" y2="345" stroke="#3b4a8e" stroke-width="1.2"/>
<line x1="381" y1="342.2" x2="381" y2="345.4" stroke="#3b4a8e" stroke-width="1.2"/>
<line x1="386" y1="347.2" x2="386" y2="350.4" stroke="#3b4a8e" stroke-width="1.2"/>
<line x1="390" y1="350.95" x2="390" y2="354.15" stroke="#3b4a8e" stroke-width="1.2"/>
<line x1="309.2" y1="284.9" x2="309.2" y2="288.5" stroke="#c8323f" stroke-width="1.2"/>
<line x1="312.5" y1="288.9" x2="312.5" y2="292.5" stroke="#c8323f" stroke-width="1.2"/>
<line x1="319.7" y1="292.8" x2="319.7" y2="296.4" stroke="#c8323f" stroke-width="1.2"/>
<line x1="335.7" y1="341.6" x2="335.7" y2="345.2" stroke="#c8323f" stroke-width="1.2"/>
<line x1="345.6" y1="341.6" x2="345.6" y2="345.2" stroke="#c8323f" stroke-width="1.2"/>
<line x1="355.5" y1="341.6" x2="355.5" y2="345.2" stroke="#c8323f" stroke-width="1.2"/>
<line x1="410.3" y1="365.3" x2="410.3" y2="368.9" stroke="#c8323f" stroke-width="1.2"/>
<line x1="428.3" y1="365.3" x2="428.3" y2="368.9" stroke="#c8323f" stroke-width="1.2"/>
<line x1="456.9" y1="365.3" x2="456.9" y2="368.9" stroke="#c8323f" stroke-width="1.2"/>
<text x="380.7" y="337.7" font-size="11.6" fill="#141414" stroke="#1a1a1a" stroke-width="0.25" textLength="136.8" lengthAdjust="spacingAndGlyphs">normal karyotype, n=197</text>
<text x="345.2" y="382.8" font-size="11.6" fill="#141414" stroke="#1a1a1a" stroke-width="0.25" textLength="139" lengthAdjust="spacingAndGlyphs">aberrant karyotype, n=44</text>
<text x="305.7" y="421.3" font-size="10.6" fill="#141414" textLength="39.8" lengthAdjust="spacingAndGlyphs"><tspan font-style="italic">P</tspan> = .176</text>
<text x="345.9" y="455.2" font-size="9.5" font-weight="bold" fill="#141414" stroke="#141414" stroke-width="0.3" textLength="133.7" lengthAdjust="spacingAndGlyphs">Event Free Survival in months</text>
<text transform="translate(282.5,338) rotate(-90)" x="0" y="0" font-size="7.1" font-weight="bold" fill="#141414" text-anchor="middle" textLength="42.9" lengthAdjust="spacingAndGlyphs">probability</text>
<text x="275.4" y="247.8" font-size="18" font-weight="bold" fill="#000">D</text>
<text x="359.8" y="247.1" font-size="9.9" font-weight="bold" fill="#141414" stroke="#141414" stroke-width="0.3" textLength="99.2" lengthAdjust="spacingAndGlyphs"><tspan font-style="italic">FLT3</tspan>-ITD negative</text></g>
</svg>
</body></html>
